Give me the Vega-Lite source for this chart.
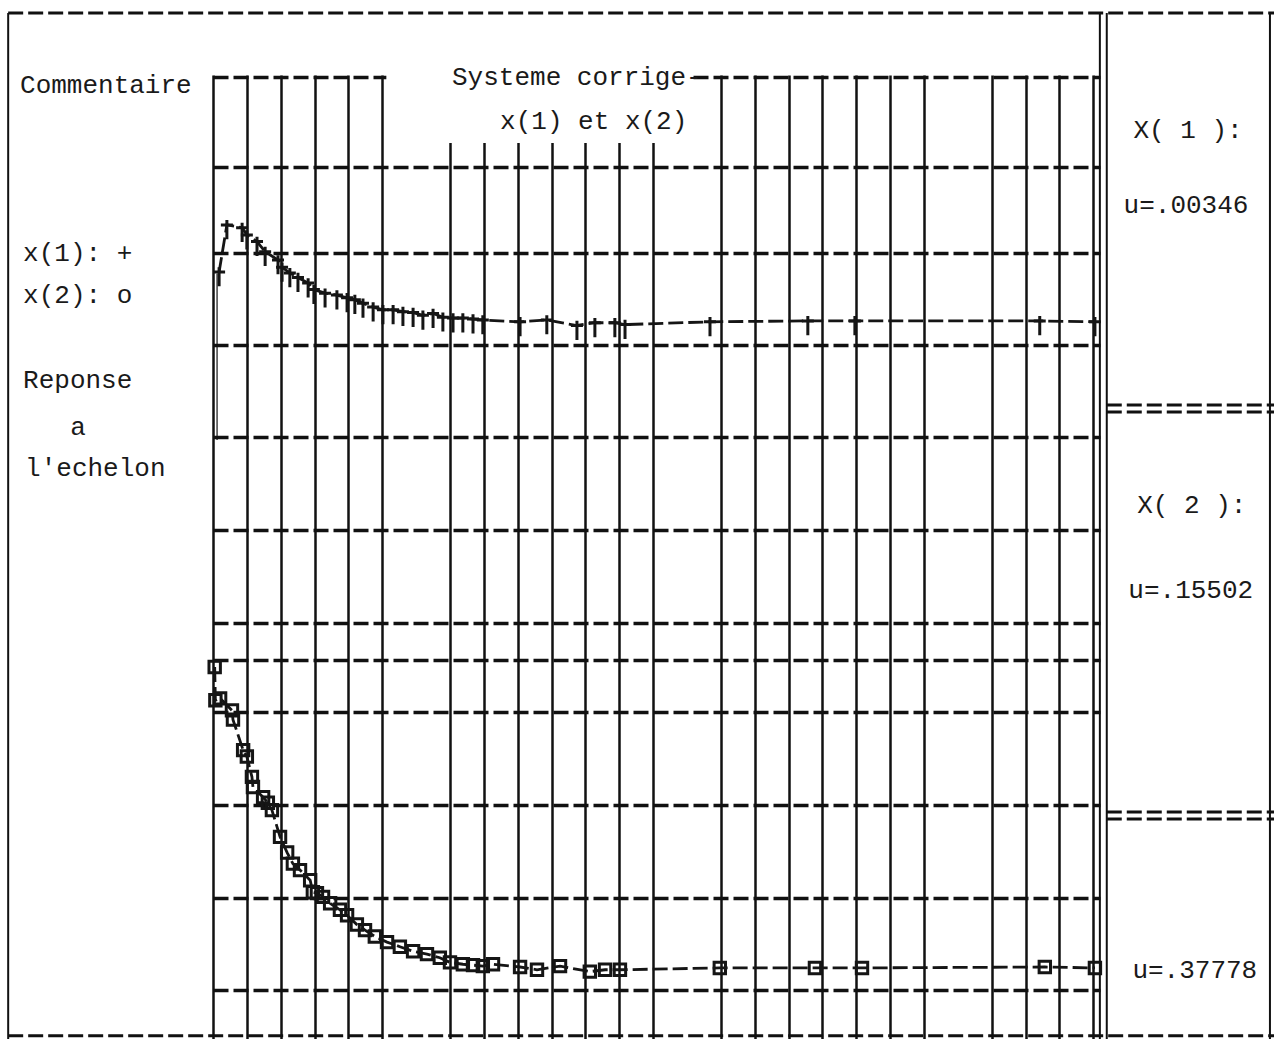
{
  "$schema": "https://vega.github.io/schema/vega-lite/v6.json",
  "width": 887,
  "height": 964,
  "autosize": {"type": "none"},
  "padding": {"left": 213, "top": 75, "right": 174, "bottom": 0},
  "background": "#ffffff",
  "data": {"values": [{}]},
  "config": {
    "view": {"stroke": null},
    "text": {"font": "Liberation Mono", "fontSize": 26, "color": "#1a1a1a", "baseline": "middle", "align": "left"},
    "rule": {"color": "#111111"}
  },
  "datasets": {
    "series": [
      {"series": "x(1)", "t": 0.18, "v": 8.31}, {"series": "x(1)", "t": 0.41, "v": 8.82},
      {"series": "x(1)", "t": 0.86, "v": 8.79}, {"series": "x(1)", "t": 1.00, "v": 8.71},
      {"series": "x(1)", "t": 1.30, "v": 8.64}, {"series": "x(1)", "t": 1.54, "v": 8.53},
      {"series": "x(1)", "t": 1.92, "v": 8.44}, {"series": "x(1)", "t": 2.04, "v": 8.36},
      {"series": "x(1)", "t": 2.27, "v": 8.30}, {"series": "x(1)", "t": 2.51, "v": 8.25},
      {"series": "x(1)", "t": 2.81, "v": 8.19}, {"series": "x(1)", "t": 2.98, "v": 8.12},
      {"series": "x(1)", "t": 3.31, "v": 8.08}, {"series": "x(1)", "t": 3.66, "v": 8.06},
      {"series": "x(1)", "t": 3.96, "v": 8.03}, {"series": "x(1)", "t": 4.19, "v": 8.01},
      {"series": "x(1)", "t": 4.43, "v": 7.97}, {"series": "x(1)", "t": 4.73, "v": 7.93},
      {"series": "x(1)", "t": 5.02, "v": 7.90}, {"series": "x(1)", "t": 5.32, "v": 7.90},
      {"series": "x(1)", "t": 5.61, "v": 7.88}, {"series": "x(1)", "t": 5.91, "v": 7.87},
      {"series": "x(1)", "t": 6.20, "v": 7.84}, {"series": "x(1)", "t": 6.50, "v": 7.86},
      {"series": "x(1)", "t": 6.79, "v": 7.82}, {"series": "x(1)", "t": 7.09, "v": 7.81},
      {"series": "x(1)", "t": 7.38, "v": 7.81}, {"series": "x(1)", "t": 7.68, "v": 7.80},
      {"series": "x(1)", "t": 7.97, "v": 7.79}, {"series": "x(1)", "t": 9.07, "v": 7.77},
      {"series": "x(1)", "t": 9.86, "v": 7.79}, {"series": "x(1)", "t": 10.75, "v": 7.73},
      {"series": "x(1)", "t": 11.28, "v": 7.76}, {"series": "x(1)", "t": 11.87, "v": 7.76},
      {"series": "x(1)", "t": 12.17, "v": 7.74}, {"series": "x(1)", "t": 14.68, "v": 7.77},
      {"series": "x(1)", "t": 17.57, "v": 7.78}, {"series": "x(1)", "t": 18.96, "v": 7.78},
      {"series": "x(1)", "t": 24.42, "v": 7.78}, {"series": "x(1)", "t": 26.05, "v": 7.77},
      {"series": "x(2)", "t": 0.05, "v": 4.03}, {"series": "x(2)", "t": 0.07, "v": 3.67},
      {"series": "x(2)", "t": 0.21, "v": 3.69}, {"series": "x(2)", "t": 0.56, "v": 3.56},
      {"series": "x(2)", "t": 0.59, "v": 3.46}, {"series": "x(2)", "t": 0.89, "v": 3.13},
      {"series": "x(2)", "t": 1.00, "v": 3.06}, {"series": "x(2)", "t": 1.15, "v": 2.84},
      {"series": "x(2)", "t": 1.18, "v": 2.73}, {"series": "x(2)", "t": 1.48, "v": 2.62},
      {"series": "x(2)", "t": 1.62, "v": 2.56}, {"series": "x(2)", "t": 1.74, "v": 2.48},
      {"series": "x(2)", "t": 1.98, "v": 2.19}, {"series": "x(2)", "t": 2.19, "v": 2.02},
      {"series": "x(2)", "t": 2.36, "v": 1.90}, {"series": "x(2)", "t": 2.57, "v": 1.83},
      {"series": "x(2)", "t": 2.87, "v": 1.72}, {"series": "x(2)", "t": 2.95, "v": 1.59},
      {"series": "x(2)", "t": 3.07, "v": 1.58}, {"series": "x(2)", "t": 3.25, "v": 1.54},
      {"series": "x(2)", "t": 3.46, "v": 1.47}, {"series": "x(2)", "t": 3.75, "v": 1.40},
      {"series": "x(2)", "t": 3.96, "v": 1.34}, {"series": "x(2)", "t": 4.25, "v": 1.24},
      {"series": "x(2)", "t": 4.49, "v": 1.18}, {"series": "x(2)", "t": 4.78, "v": 1.11},
      {"series": "x(2)", "t": 5.14, "v": 1.05}, {"series": "x(2)", "t": 5.52, "v": 1.00},
      {"series": "x(2)", "t": 5.91, "v": 0.95}, {"series": "x(2)", "t": 6.32, "v": 0.92},
      {"series": "x(2)", "t": 6.70, "v": 0.88}, {"series": "x(2)", "t": 7.00, "v": 0.83},
      {"series": "x(2)", "t": 7.38, "v": 0.81}, {"series": "x(2)", "t": 7.68, "v": 0.80},
      {"series": "x(2)", "t": 7.97, "v": 0.79}, {"series": "x(2)", "t": 8.27, "v": 0.81},
      {"series": "x(2)", "t": 9.07, "v": 0.78}, {"series": "x(2)", "t": 9.57, "v": 0.75},
      {"series": "x(2)", "t": 10.25, "v": 0.79}, {"series": "x(2)", "t": 11.13, "v": 0.73},
      {"series": "x(2)", "t": 11.58, "v": 0.75}, {"series": "x(2)", "t": 12.02, "v": 0.75},
      {"series": "x(2)", "t": 14.97, "v": 0.77}, {"series": "x(2)", "t": 17.78, "v": 0.77},
      {"series": "x(2)", "t": 19.17, "v": 0.77}, {"series": "x(2)", "t": 24.57, "v": 0.78},
      {"series": "x(2)", "t": 26.05, "v": 0.77}
    ]
  },
  "layer": [
    {
      "data": {"name": "series"},
      "mark": {"type": "line", "strokeWidth": 2.8, "strokeDash": [15, 5], "color": "#151515"},
      "encoding": {
        "x": {
          "field": "t", "type": "quantitative",
          "scale": {"domain": [0, 26.2], "nice": false, "zero": false},
          "axis": {
            "title": null, "labels": false, "ticks": false, "domain": false, "labelOverlap": false, "labelFlush": false,
            "tickCount": 200,
            "grid": true, "gridColor": "#111111", "gridWidth": 2.5, "gridOpacity": 1,
            "values": [0, 1, 2, 3, 4, 5, 7, 8, 9, 10, 11, 12, 13, 15, 16, 17, 18, 19, 20, 21, 23, 24, 25, 26]
          }
        },
        "y": {
          "field": "v", "type": "quantitative",
          "scale": {"domain": [0, 10.444], "nice": false, "zero": false},
          "axis": {
            "title": null, "labels": false, "ticks": false, "domain": false, "labelOverlap": false,
            "tickCount": 200,
            "grid": true, "gridColor": "#111111", "gridWidth": 3.5, "gridOpacity": 1, "gridDash": [15, 5],
            "values": [0.531, 1.528, 2.535, 3.543, 4.106, 4.507, 5.515, 6.522, 7.519, 8.516, 9.447, 10.42]
          }
        },
        "detail": {"field": "series"}
      }
    },
    {
      "data": {"name": "series"},
      "mark": {"type": "point", "filled": false, "strokeWidth": 3, "opacity": 1},
      "encoding": {
        "x": {"field": "t", "type": "quantitative"},
        "y": {"field": "v", "type": "quantitative"},
        "shape": {
          "field": "series", "type": "nominal", "legend": null,
          "scale": {"domain": ["x(1)", "x(2)"], "range": ["M-0.5,0H0.5M0,-0.4V1.2", "square"]}
        },
        "size": {
          "field": "series", "type": "nominal", "legend": null,
          "scale": {"domain": ["x(1)", "x(2)"], "range": [576, 130]}
        },
        "color": {"value": "#151515"}
      }
    },
    {
      "mark": {"type": "rect", "color": "#ffffff"},
      "encoding": {"x": {"datum": 5.12}, "x2": {"datum": 14.09}, "y": {"datum": 10.6}, "y2": {"datum": 9.707}}
    },
    {
      "mark": {"type": "rule", "strokeWidth": 1.2},
      "encoding": {"x": {"datum": 0.12}, "y": {"datum": 8.29}, "y2": {"datum": 6.49}}
    },
    {
      "mark": {"type": "rule", "strokeWidth": 3, "strokeDash": [15, 5]},
      "encoding": {"x": {"datum": -6.05}, "x2": {"datum": 31.4}, "y": {"datum": 11.116}}
    },
    {
      "mark": {"type": "rule", "strokeWidth": 3, "strokeDash": [15, 5]},
      "encoding": {"x": {"datum": -6.05}, "x2": {"datum": 31.4}, "y": {"datum": 0.035}}
    },
    {
      "mark": {"type": "rule", "strokeWidth": 2},
      "encoding": {"x": {"datum": -6.05}, "y": {"datum": 11.116}, "y2": {"datum": 0}}
    },
    {
      "mark": {"type": "rule", "strokeWidth": 2},
      "encoding": {"x": {"datum": 26.196}, "y": {"datum": 11.116}, "y2": {"datum": 0}}
    },
    {
      "mark": {"type": "rule", "strokeWidth": 2},
      "encoding": {"x": {"datum": 26.4}, "y": {"datum": 11.116}, "y2": {"datum": 0}}
    },
    {
      "mark": {"type": "rule", "strokeWidth": 2},
      "encoding": {"x": {"datum": 31.22}, "y": {"datum": 11.116}, "y2": {"datum": 0}}
    },
    {
      "mark": {"type": "rule", "strokeWidth": 3, "strokeDash": [15, 5]},
      "encoding": {"x": {"datum": 26.4}, "x2": {"datum": 31.4}, "y": {"datum": 6.869}}
    },
    {
      "mark": {"type": "rule", "strokeWidth": 3, "strokeDash": [15, 5]},
      "encoding": {"x": {"datum": 26.4}, "x2": {"datum": 31.4}, "y": {"datum": 6.793}}
    },
    {
      "mark": {"type": "rule", "strokeWidth": 3, "strokeDash": [15, 5]},
      "encoding": {"x": {"datum": 26.4}, "x2": {"datum": 31.4}, "y": {"datum": 2.459}}
    },
    {
      "mark": {"type": "rule", "strokeWidth": 3, "strokeDash": [15, 5]},
      "encoding": {"x": {"datum": 26.4}, "x2": {"datum": 31.4}, "y": {"datum": 2.384}}
    },
    {"mark": {"type": "text", "text": "Commentaire"}, "encoding": {"x": {"datum": -5.70}, "y": {"datum": 10.336}}},
    {"mark": {"type": "text", "text": "x(1):  +"}, "encoding": {"x": {"datum": -5.61}, "y": {"datum": 8.516}}},
    {"mark": {"type": "text", "text": "x(2):  o"}, "encoding": {"x": {"datum": -5.61}, "y": {"datum": 8.061}}},
    {"mark": {"type": "text", "text": "Reponse"}, "encoding": {"x": {"datum": -5.61}, "y": {"datum": 7.140}}},
    {"mark": {"type": "text", "text": "a"}, "encoding": {"x": {"datum": -4.22}, "y": {"datum": 6.631}}},
    {"mark": {"type": "text", "text": "l'echelon"}, "encoding": {"x": {"datum": -5.55}, "y": {"datum": 6.186}}},
    {"mark": {"type": "text", "text": "Systeme corrige-"}, "encoding": {"x": {"datum": 7.06}, "y": {"datum": 10.423}}},
    {"mark": {"type": "text", "text": "x(1) et x(2)"}, "encoding": {"x": {"datum": 8.48}, "y": {"datum": 9.946}}},
    {"mark": {"type": "text", "text": "X( 1 ):", "align": "center"}, "encoding": {"x": {"datum": 28.8}, "y": {"datum": 9.848}}},
    {"mark": {"type": "text", "text": "u=.00346", "align": "center"}, "encoding": {"x": {"datum": 28.74}, "y": {"datum": 9.036}}},
    {"mark": {"type": "text", "text": "X( 2 ):", "align": "center"}, "encoding": {"x": {"datum": 28.91}, "y": {"datum": 5.785}}},
    {"mark": {"type": "text", "text": "u=.15502", "align": "center"}, "encoding": {"x": {"datum": 28.88}, "y": {"datum": 4.865}}},
    {"mark": {"type": "text", "text": "u=.37778", "align": "center"}, "encoding": {"x": {"datum": 29.0}, "y": {"datum": 0.748}}}
  ]
}
